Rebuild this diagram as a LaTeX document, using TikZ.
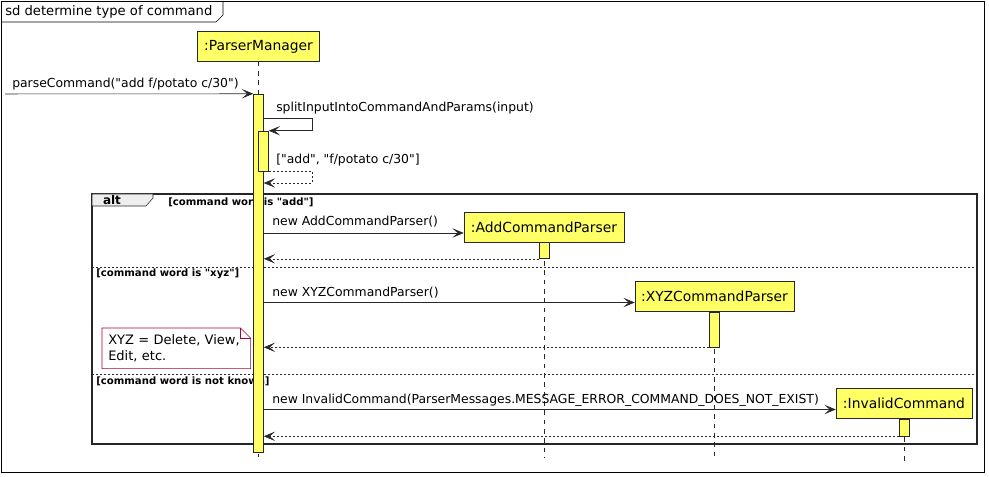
\documentclass[tikz,border=0pt]{standalone}
\usepackage{fontspec}
\setmainfont{DejaVu Sans}[Ligatures=TeXOff]
\usetikzlibrary{arrows.meta,positioning}

\definecolor{partyellow}{RGB}{255,255,102}
\definecolor{noteborder}{RGB}{168,0,54}
\definecolor{tabgray}{RGB}{238,238,238}
\definecolor{linegray}{RGB}{40,40,40}

\tikzset{
  participant/.style={draw=linegray, fill=partyellow, minimum height=22.5pt, inner sep=0pt, font=\fontsize{10.4}{12}\selectfont},
  activation/.style={draw=linegray, fill=partyellow, minimum width=7.5pt, inner sep=0pt},
  lifeline/.style={draw=linegray, dash pattern=on 3.5pt off 3.5pt},
  message/.style={draw=linegray, -{Stealth[length=8.5pt,width=7pt,inset=4pt]}},
  reply/.style={message, dash pattern=on 1.5pt off 1.5pt},
  msglabel/.style={anchor=west, inner sep=0pt, font=\fontsize{9.3}{11}\selectfont},
  guard/.style={anchor=west, inner sep=0pt, font=\bfseries\fontsize{7.6}{9}\selectfont},
  separator/.style={draw=linegray, dash pattern=on 1.5pt off 1.5pt},
  notebox/.style={fill=white, inner xsep=4.5pt, inner ysep=0pt, align=left, font=\fontsize{9.75}{12}\selectfont},
}

\begin{document}
\begin{tikzpicture}[x=0.75pt,y=0.75pt,yscale=-1,xscale=1]
\useasboundingbox (0,0) rectangle (989,477);

% Outer frame
\draw[black] (1,1) rectangle (984,472);
\draw[black] (1,22) -- (216,22) -- (223,15) -- (223,1);
% Text Node
\node[anchor=west, inner sep=0pt, font=\fontsize{9.85}{11}\selectfont] (title) at (5,11.5) {sd determine type of command};

% Alt fragment
\draw[black!85, line width=1.5pt] (92,194) rectangle (977,444);
\draw[black!85, fill=tabgray] (92,194) -- (153,194) -- (153,198) -- (146,206) -- (92,206) -- cycle;
\node[inner sep=0pt, font=\bfseries\fontsize{9}{10}\selectfont] (altlabel) at (112,200) {alt};
\node[guard] (guardadd) at (168,202) {[command word is "add"]};
\draw[separator] (92,267) -- (977,267);
\node[guard] (guardxyz) at (96,274) {[command word is "xyz"]};
\draw[separator] (92,374) -- (977,374);
\node[guard] (guardinv) at (96,381) {[command word is not known]};

% Participants
\node[participant, minimum width=91.5pt] (pm) at (258.5,46.5) {:ParserManager};
\node[participant, minimum width=120pt] (acp) at (544,227) {:AddCommandParser};
\node[participant, minimum width=119.25pt] (xyz) at (714.5,296.5) {:XYZCommandParser};
\node[participant, minimum width=102pt] (inv) at (904,403.5) {:InvalidCommand};

% Lifelines
\draw[lifeline] (pm.south) -- (pm.south |- 0,457);
\draw[lifeline] (acp.south) -- (acp.south |- 0,457);
\draw[lifeline] (xyz.south) -- (xyz.south |- 0,457);
\draw[lifeline] (inv.south) -- (inv.south |- 0,462);

% Activations
\node[activation, minimum height=268.5pt] (pmbar) at (258.5,273) {};
\node[activation, minimum height=30pt] (splitbar) at (263.5,151) {};
\node[activation, minimum height=12pt, anchor=north] (acpbar) at (acp.south) {};
\node[activation, minimum height=26.25pt, anchor=north] (xyzbar) at (xyz.south) {};
\node[activation, minimum height=12.75pt, anchor=north] (invbar) at (inv.south) {};

% parseCommand
\coordinate (caller) at (5,94);
\draw[message] (caller) -- (pmbar.north west);
\node[msglabel] (parselabel) at (12,84) {parseCommand("add f/potato c/30")};

% splitInputIntoCommandAndParams
\coordinate (selfcorner) at (312,118);
\draw[message] (pmbar.east |- selfcorner) -- (selfcorner) -- (selfcorner |- splitbar.north) -- (splitbar.north east);
\node[msglabel] (splitlabel) at (276,108) {splitInputIntoCommandAndParams(input)};
\coordinate (retcorner) at (312,183);
\draw[reply] (splitbar.south east) -- (splitbar.south east -| retcorner) -- (retcorner) -- (retcorner -| pmbar.east);
\node[msglabel] (splitret) at (276,160) {["add", "f/potato c/30"]};

% new AddCommandParser
\coordinate (acpin) at ([yshift=4.5pt]acp.west);
\draw[message] (pmbar.east |- acpin) -- (acpin);
\node[msglabel] (acplabel) at (272,222) {new AddCommandParser()};
\draw[reply] (acpbar.south west) -- (acpbar.south west -| pmbar.east);

% new XYZCommandParser
\coordinate (xyzin) at ([yshift=4.5pt]xyz.west);
\draw[message] (pmbar.east |- xyzin) -- (xyzin);
\node[msglabel] (xyzlabel) at (272,293) {new XYZCommandParser()};
\draw[reply] (xyzbar.south west) -- (xyzbar.south west -| pmbar.east);

% new InvalidCommand
\coordinate (invin) at ([yshift=4.5pt]inv.west);
\draw[message] (pmbar.east |- invin) -- (invin);
\node[msglabel] (invlabel) at (272,400) {new InvalidCommand(ParserMessages.MESSAGE\_ERROR\_COMMAND\_DOES\_NOT\_EXIST)};
\draw[reply] (invbar.south west) -- (invbar.south west -| pmbar.east);

% Note
\node[notebox, anchor=north west, text width=102pt, minimum height=30pt] (xyznote) at (102,328) {XYZ = Delete, View,\\Edit, etc.};
\draw[noteborder] (xyznote.north west) -- ([xshift=-7.5pt]xyznote.north east) -- ([yshift=7.5pt]xyznote.north east) -- (xyznote.south east) -- (xyznote.south west) -- cycle;
\draw[noteborder] ([xshift=-7.5pt]xyznote.north east) -- ([xshift=-7.5pt,yshift=7.5pt]xyznote.north east) -- ([yshift=7.5pt]xyznote.north east);

\end{tikzpicture}
\end{document}
